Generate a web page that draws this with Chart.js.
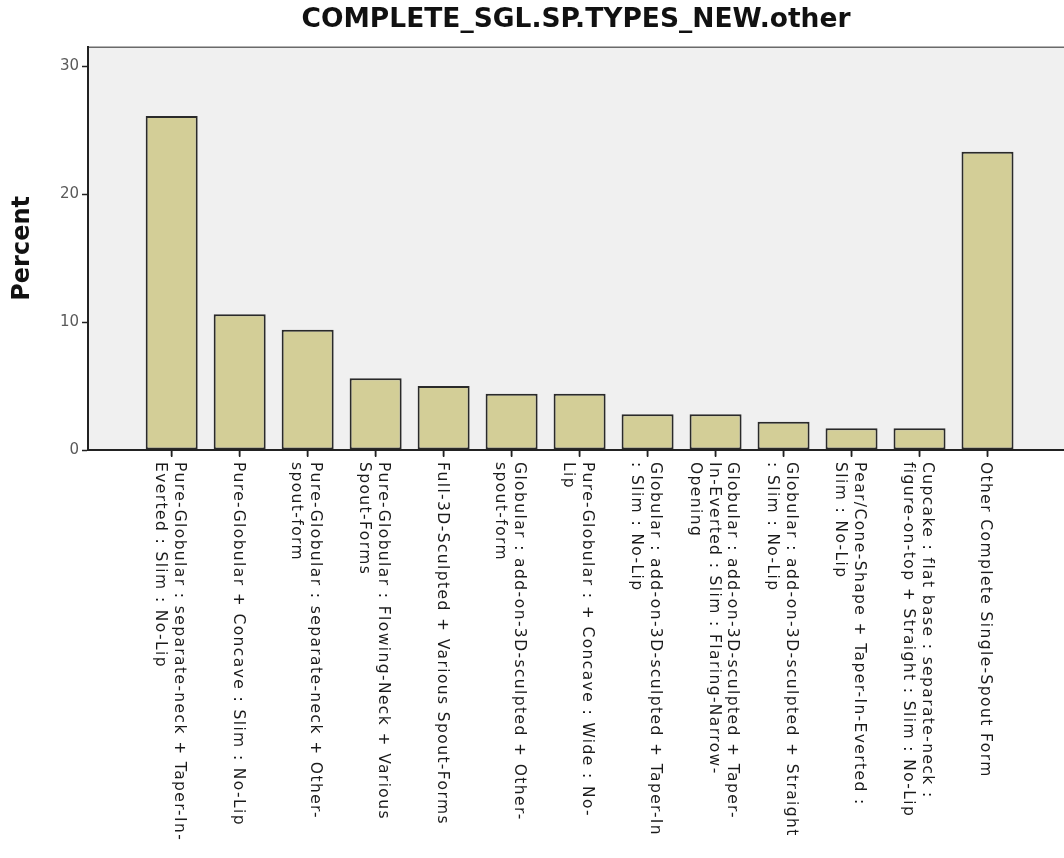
<!DOCTYPE html>
<html>
<head>
<meta charset="utf-8">
<script src="https://cdn.jsdelivr.net/npm/chart.js@4.4.1/dist/chart.umd.min.js"></script>
<style>
  html, body { margin: 0; padding: 0; background: #ffffff; }
  #wrap { width: 1064px; height: 858px; position: relative; }
</style>
</head>
<body>
<div id="wrap"><canvas id="c" width="1064" height="858"></canvas></div>
<script>
// ---- data ----
const chartTitle = "COMPLETE_SGL.SP.TYPES_NEW.other";
const yAxisTitle = "Percent";
const categories = [
  ["Pure-Globular : separate-neck + Taper-In-", "Everted : Slim : No-Lip"],
  ["Pure-Globular + Concave : Slim : No-Lip"],
  ["Pure-Globular : separate-neck + Other-", "spout-form"],
  ["Pure-Globular : Flowing-Neck + Various", "Spout-Forms"],
  ["Full-3D-Sculpted + Various Spout-Forms"],
  ["Globular : add-on-3D-sculpted + Other-", "spout-form"],
  ["Pure-Globular : + Concave : Wide : No-", "Lip"],
  ["Globular : add-on-3D-sculpted + Taper-In", ": Slim : No-Lip"],
  ["Globular : add-on-3D-sculpted + Taper-", "In-Everted : Slim : Flaring-Narrow-", "Opening"],
  ["Globular : add-on-3D-sculpted + Straight", ": Slim : No-Lip"],
  ["Pear/Cone-Shape + Taper-In-Everted :", "Slim : No-Lip"],
  ["Cupcake : flat base : separate-neck :", "figure-on-top + Straight : Slim : No-Lip"],
  ["Other Complete Single-Spout Form"]
];
const percentValues = [26.1, 10.6, 9.4, 5.6, 5.0, 4.4, 4.4, 2.8, 2.8, 2.2, 1.7, 1.7, 23.3];
const yTickValues = [0, 10, 20, 30];

// ---- styles ----
const FONT = "'DejaVu Sans', 'Open Sans', sans-serif";
const plotBg = '#f0f0f0';
const barFill = '#d3ce97';
const barEdge = '#2a2a2a';

const points = percentValues.map((v, i) => ({ x: i, y: v }));

const bgPlugin = {
  id: 'plotBackground',
  beforeDraw(chart) {
    const { ctx, chartArea: a } = chart;
    ctx.save();
    ctx.fillStyle = plotBg;
    ctx.fillRect(a.left, a.top, a.right - a.left, a.bottom - a.top);
    ctx.strokeStyle = '#6a6a6a';
    ctx.lineWidth = 1.5;
    ctx.beginPath();
    ctx.moveTo(a.left, a.top + 0.5);
    ctx.lineTo(a.right, a.top + 0.5);
    ctx.stroke();
    ctx.restore();
  }
};

const catLabelPlugin = {
  id: 'rotatedCategoryLabels',
  afterDraw(chart) {
    const { ctx } = chart;
    const xs = chart.scales.x;
    const lh = 18.5;
    ctx.save();
    // category tick marks
    ctx.strokeStyle = '#222';
    ctx.lineWidth = 1.5;
    categories.forEach((_, i) => {
      const px = xs.getPixelForValue(i);
      ctx.beginPath();
      ctx.moveTo(px, xs.top);
      ctx.lineTo(px, xs.top + 7);
      ctx.stroke();
    });
    ctx.fillStyle = '#1a1a1a';
    ctx.font = "15.5px " + FONT;
    try { ctx.letterSpacing = '1.4px'; } catch (e) {}
    ctx.textAlign = 'left';
    ctx.textBaseline = 'middle';
    categories.forEach((lines, i) => {
      const px = xs.getPixelForValue(i) - 2;
      ctx.save();
      ctx.translate(px, xs.top + 12);
      ctx.rotate(Math.PI / 2);
      const n = lines.length;
      lines.forEach((t, j) => {
        ctx.fillText(t, 0, (j - (n - 1) / 2) * lh);
      });
      ctx.restore();
    });
    ctx.restore();
  }
};

new Chart(document.getElementById('c'), {
  type: 'bar',
  data: {
    datasets: [{
      data: points,
      backgroundColor: barFill,
      borderColor: barEdge,
      borderWidth: 2,
      borderSkipped: false,
      barPercentage: 0.765,
      categoryPercentage: 1.0
    }]
  },
  plugins: [bgPlugin, catLabelPlugin],
  options: {
    responsive: false,
    animation: false,
    layout: { padding: { left: 0, right: 0, top: 0, bottom: 0 } },
    plugins: {
      legend: { display: false },
      tooltip: { enabled: false },
      title: {
        display: true,
        fullSize: false,
        text: chartTitle,
        color: '#111',
        font: { family: FONT, size: 26.5, weight: 'bold', lineHeight: 1.2 },
        padding: { top: 4, bottom: 11 }
      }
    },
    scales: {
      x: {
        type: 'linear',
        offset: false,
        min: -1.231,
        max: 13.125,
        afterBuildTicks(scale) { scale.ticks = categories.map((_, i) => ({ value: i })); },
        afterFit(scale) { scale.height = 408; },
        ticks: { display: false },
        grid: { display: true, offset: false, drawOnChartArea: false, drawTicks: true, tickLength: 6, tickColor: '#222', tickWidth: 1.5 },
        border: { display: true, color: '#222', width: 2 }
      },
      y: {
        type: 'linear',
        min: 0,
        max: 31.5,
        afterBuildTicks(scale) { scale.ticks = yTickValues.map(v => ({ value: v })); },
        afterFit(scale) { scale.width = 88; },
        ticks: { color: '#5a5a5a', font: { family: FONT, size: 15 }, padding: 3 },
        grid: { display: true, drawOnChartArea: false, drawTicks: true, tickLength: 6, tickColor: '#222', tickWidth: 1.5 },
        border: { display: true, color: '#222', width: 2 },
        title: {
          display: true,
          text: yAxisTitle,
          color: '#111',
          font: { family: FONT, size: 24, weight: 'bold', lineHeight: 1.2 },
          padding: { top: 8.6, bottom: 0 }
        }
      }
    }
  }
});
</script>
</body>
</html>
